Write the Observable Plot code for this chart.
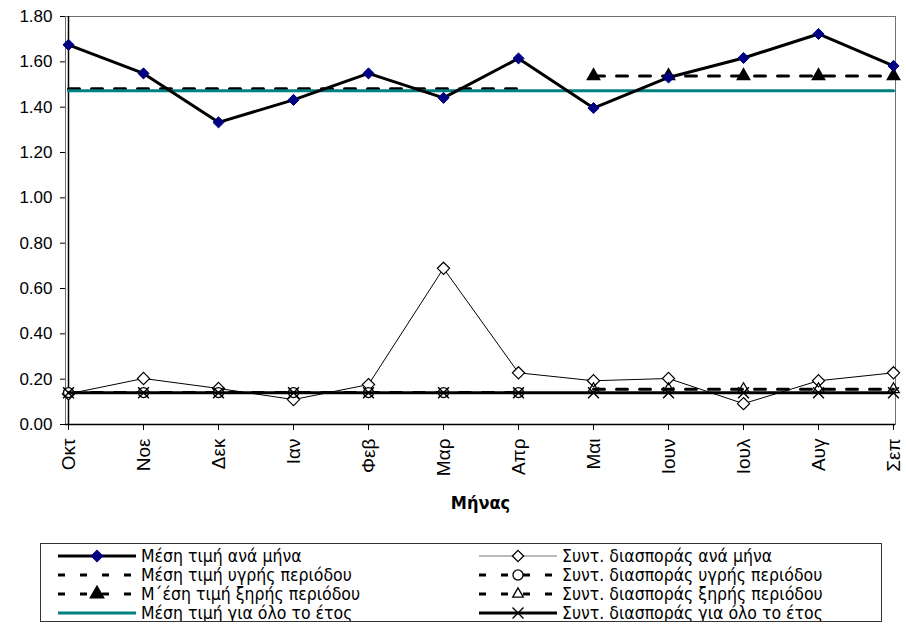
<!DOCTYPE html>
<html><head><meta charset="utf-8">
<script src="https://cdn.jsdelivr.net/npm/d3@7"></script>
<script src="https://cdn.jsdelivr.net/npm/@observablehq/plot@0.6"></script>
<style>
body{margin:0;background:#fff;width:906px;height:626px;overflow:hidden;position:relative;font-family:"Liberation Sans",Arial,sans-serif}
#chart{position:absolute;left:0;top:0}
#legend{position:absolute;left:40px;top:543px;width:842px;height:79px;border:1px solid #333;overflow:hidden;box-sizing:border-box;background:#fff}
</style></head><body>
<div id="chart"></div><div id="legend"></div>
<script>
// ---- data ----
const months = ["Οκτ","Νοε","Δεκ","Ιαν","Φεβ","Μαρ","Απρ","Μαι","Ιουν","Ιουλ","Αυγ","Σεπ"];
const meanMonthly = [1.675,1.549,1.333,1.432,1.549,1.441,1.615,1.396,1.531,1.617,1.723,1.582];
const cvMonthly = [0.135,0.203,0.159,0.110,0.176,0.689,0.228,0.193,0.203,0.092,0.193,0.228];
const wetMonths = ["Οκτ","Νοε","Δεκ","Ιαν","Φεβ","Μαρ","Απρ"];
const dryMonths = ["Μαι","Ιουν","Ιουλ","Αυγ","Σεπ"];
const wetMean = 1.481, dryMean = 1.538, yearMean = 1.472;
const wetCV = 0.141, dryCV = 0.155, yearCV = 0.140;
const yTicks = [0,0.2,0.4,0.6,0.8,1.0,1.2,1.4,1.6,1.8];
const seriesNames = ["Μέση τιμή ανά μήνα","Μέση τιμή υγρής περιόδου","Μ΄έση τιμή ξηρής περιόδου","Μέση τιμή για όλο το έτος",
  "Συντ. διασποράς ανά μήνα","Συντ. διασποράς υγρής περιόδου","Συντ. διασποράς ξηρής περιόδου","Συντ. διασποράς για όλο το έτος"];
const axisTitle = "Μήνας";

// ---- tables ----
const meanData = months.map((m,i)=>({month:m, value:meanMonthly[i]}));
const cvData = months.map((m,i)=>({month:m, value:cvMonthly[i]}));
const wetMeanData = wetMonths.map(m=>({month:m, value:wetMean}));
const dryMeanData = dryMonths.map(m=>({month:m, value:dryMean}));
const yearMeanData = months.map(m=>({month:m, value:yearMean}));
const wetCVData = wetMonths.map(m=>({month:m, value:wetCV}));
const dryCVData = dryMonths.map(m=>({month:m, value:dryCV}));
const yearCVData = months.map(m=>({month:m, value:yearCV}));

const DASH = "11,12";
const NAVY = "#000080", TEAL = "#008080";
const xy = {x:"month", y:"value"};

const chart = Plot.plot({
  width: 906, height: 530,
  marginLeft: 65, marginRight: 11, marginTop: 16, marginBottom: 106,
  style: {fontFamily: "'Liberation Sans', Arial, sans-serif", fontSize: "17px", color: "#000", background: "#fff", overflow: "visible"},
  x: {type: "point", domain: months, padding: 0},
  y: {domain: [0, 1.8]},
  marks: [
    Plot.frame({stroke: "#707070"}),
    Plot.axisY({ticks: yTicks, tickFormat: d => d.toFixed(2), tickSize: 5, tickPadding: 8, fontSize: 17, label: null}),
    Plot.axisX({tickRotate: -90, tickSize: 6, tickPadding: 8, fontSize: 19, label: null}),
    Plot.ruleY([0], {stroke: "#000", strokeWidth: 1.5}),
    Plot.ruleX([months[0]], {stroke: "#000", strokeWidth: 1.5}),
    // means
    Plot.line(wetMeanData, {...xy, stroke: "#000", strokeWidth: 3, strokeDasharray: DASH}),
    Plot.line(dryMeanData, {...xy, stroke: "#000", strokeWidth: 3, strokeDasharray: DASH}),
    Plot.dot(dryMeanData, {...xy, symbol: "triangle", r: 5.5, fill: "#000"}),
    Plot.line(yearMeanData, {...xy, stroke: TEAL, strokeWidth: 3}),
    Plot.line(meanData, {...xy, stroke: "#000", strokeWidth: 3}),
    Plot.dot(meanData, {...xy, symbol: "diamond2", r: 5, fill: NAVY, stroke: NAVY, strokeWidth: 1}),
    // coefficients of variation
    Plot.line(cvData, {...xy, stroke: "#000", strokeWidth: 1}),
    Plot.dot(cvData, {...xy, symbol: "diamond2", r: 5.5, fill: "#fff", stroke: "#000", strokeWidth: 1.2}),
    Plot.line(wetCVData, {...xy, stroke: "#000", strokeWidth: 3, strokeDasharray: DASH}),
    Plot.dot(wetCVData, {...xy, symbol: "circle", r: 5, fill: "#fff", stroke: "#000", strokeWidth: 1.3}),
    Plot.line(dryCVData, {...xy, stroke: "#000", strokeWidth: 3, strokeDasharray: DASH}),
    Plot.dot(dryCVData, {...xy, symbol: "triangle2", r: 5.5, fill: "none", stroke: "#000", strokeWidth: 1.3}),
    Plot.line(yearCVData, {...xy, stroke: "#000", strokeWidth: 3}),
    Plot.dot(yearCVData, {...xy, symbol: "times", r: 5, stroke: "#000", strokeWidth: 1.5}),
    Plot.text([axisTitle], {frameAnchor: "bottom", dy: 84, fontWeight: "bold", fontSize: 18,
      fontFamily: "'Liberation Sans Narrow', 'DejaVu Sans Condensed', Arial, sans-serif"})
  ]
});
document.getElementById("chart").appendChild(chart);

// ---- legend ----
const lg = d3.select("#legend").append("svg").attr("width", 842).attr("height", 79)
  .style("font-family", "'Liberation Sans Narrow', 'DejaVu Sans Condensed', Arial, sans-serif");
const rowY = [12, 31, 50, 69];
const specs = [
  {col:0, stroke:"#000", w:3, dash:null, sym:d3.symbolDiamond2, fill:NAVY, sstroke:NAVY},
  {col:0, stroke:"#000", w:3, dash:"7,15", sym:null},
  {col:0, stroke:"#000", w:3, dash:"7,15", sym:d3.symbolTriangle, fill:"#000", sstroke:"#000"},
  {col:0, stroke:TEAL, w:3, dash:null, sym:null},
  {col:1, stroke:"#777", w:1.2, dash:null, sym:d3.symbolDiamond2, fill:"#fff", sstroke:"#000"},
  {col:1, stroke:"#000", w:3, dash:"7,15", sym:d3.symbolCircle, fill:"#fff", sstroke:"#000"},
  {col:1, stroke:"#000", w:3, dash:"7,15", sym:d3.symbolTriangle2, fill:"#fff", sstroke:"#000"},
  {col:1, stroke:"#000", w:3, dash:null, sym:d3.symbolTimes, fill:"none", sstroke:"#000"}
];
const colX = [17, 438];
specs.forEach((s, i) => {
  const y = rowY[i % 4], x0 = colX[s.col];
  const g = lg.append("g");
  g.append("line").attr("x1", x0).attr("x2", x0 + 78).attr("y1", y).attr("y2", y)
    .attr("stroke", s.stroke).attr("stroke-width", s.w).attr("stroke-dasharray", s.dash);
  if (s.sym) g.append("path").attr("d", d3.symbol(s.sym, 80)()).attr("transform", `translate(${x0+39},${y})`)
    .attr("fill", s.fill).attr("stroke", s.sstroke).attr("stroke-width", 1.3);
  g.append("text").attr("x", x0 + 83).attr("y", y + 5.5).attr("font-size", 17.5).text(seriesNames[i]);
});
</script>
</body></html>
